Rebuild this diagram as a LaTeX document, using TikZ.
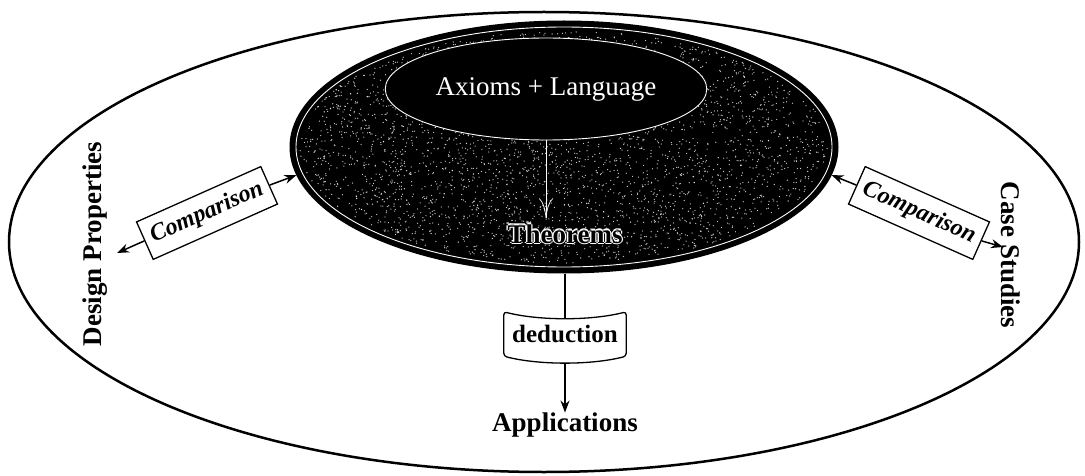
\documentclass[tikz,border=0pt]{standalone}
\usepackage{fontspec}
\setmainfont{Liberation Serif}
\usetikzlibrary{shapes.geometric,arrows.meta,calc}
\tikzset{
  lbl/.style={font=\fontsize{27}{30}\selectfont\bfseries, inner sep=0pt},
  cmpbox/.style={draw, fill=white, line width=1.3pt, minimum width=136pt, minimum height=41pt,
     inner sep=2pt, font=\fontsize{24}{26}\selectfont\bfseries\itshape},
  arr/.style={-{Stealth[length=12pt,width=9pt]}, line width=1.5pt},
  thmw/.style={font=\fontsize{27}{30}\selectfont\bfseries, text=white, inner sep=0pt},
}
\begin{document}
\begin{tikzpicture}[x=1pt,y=-1pt]
\useasboundingbox (0,0) rectangle (1085,476);
% outer ellipse
\node[ellipse, draw, line width=2.5pt, minimum width=1070pt, minimum height=460pt] (outer) at (544,242) {};
% dark core
\node[ellipse, draw, fill=black, line width=3pt, minimum width=546pt, minimum height=250pt] (core) at (564,147) {};
\begin{scope}
\pgfmathsetseed{7}
\foreach \i in {1,...,3500}{
  \pgfmathsetmacro{\ang}{360*rnd}
  \pgfmathsetmacro{\rr}{sqrt(rnd)}
  \fill[white, opacity=0.8] ({564+264*\rr*cos(\ang)},{147+116*\rr*sin(\ang)}) circle (0.65pt);
}
\end{scope}
\draw[white, line width=0.9pt] (564,147) ellipse [x radius=268, y radius=120];
% inner ellipse
\node[ellipse, draw=white, fill=black, line width=0.9pt, minimum width=320pt, minimum height=102pt,
  text=white, font=\fontsize{27}{30}\selectfont] (ax) at (546,89) {Axioms + Language};
% theorems (black with white outline)
\node[thmw] (t1) at (566.3,234) {Theorems};
\node[thmw] (t2) at (563.7,234) {Theorems};
\node[thmw] (t3) at (565,235.3) {Theorems};
\node[thmw] (t4) at (565,232.7) {Theorems};
\node[lbl, text=black] (thm) at (565,234) {Theorems};
\draw[white, line width=0.7pt, -{To[length=20pt,width=14pt]}] (ax.south) -- ($(ax.south |- thm.north)+(0,-6)$);
% deduction
\node[font=\fontsize{25}{27}\selectfont\bfseries, minimum width=122pt, minimum height=44pt] (ded) at (565,334) {deduction};
\draw[line width=1.3pt, rounded corners=3pt] (ded.north west) .. controls +(35,9) and +(-35,9) .. (ded.north east)
  -- (ded.south east) .. controls +(-35,9) and +(35,9) .. (ded.south west) -- cycle;
\draw[line width=1.5pt] (ded.north |- core.south) -- ($(ded.north)+(0,7)$);
\node[lbl] (app) at (565,425) {Applications};
\draw[arr] ($(ded.south)+(0,7)$) -- (app.north);
% side labels
\node[lbl, rotate=90] (dp) at (95,244) {Design Properties};
\node[lbl, rotate=-90] (cs) at (1011,255) {Case Studies};
\coordinate (dpTip) at (117,253);
\coordinate (csTip) at (1003,247);
% comparison boxes
\node[cmpbox, rotate=24] (cmpL) at (207,213) {Comparison};
\node[cmpbox, rotate=-24] (cmpR) at (919,213) {Comparison};
\draw[arr] (cmpL.west) -- (dpTip);
\draw[arr] (cmpL.east) -- (core.186);
\draw[arr] (cmpR.west) -- (core.-6);
\draw[arr] (cmpR.east) -- (csTip);
\end{tikzpicture}
\end{document}
